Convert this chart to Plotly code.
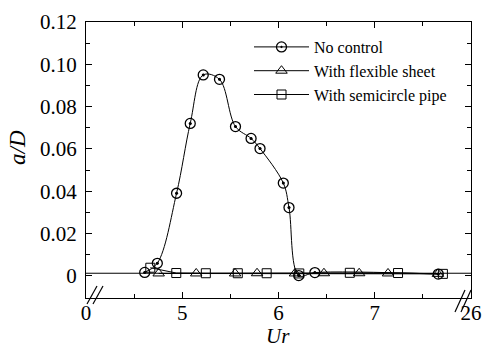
import plotly.graph_objects as go

# ---- data (Ur axis is broken: positions 4 and 8 are labelled 0 and 26) ----
ur_noctrl = [4.61, 4.741, 4.941, 5.083, 5.218, 5.387, 5.553, 5.715, 5.808, 6.050, 6.109, 6.21, 6.378, 7.66]
ad_noctrl = [0.0017, 0.0060, 0.0391, 0.0721, 0.0950, 0.0929, 0.0706, 0.0650, 0.0602, 0.0439, 0.0323, 0.0002, 0.0016, 0.0009]

ur_sheet = [4.755, 5.145, 5.549, 5.777, 6.171, 6.472, 6.838, 7.138, 7.656]
ad_sheet = [0.0012, 0.0012, 0.0012, 0.0013, 0.0012, 0.0013, 0.0013, 0.0012, 0.0010]

ur_pipe = [4.668, 4.938, 5.245, 5.577, 5.877, 6.216, 6.741, 7.242, 7.708]
ad_pipe = [0.0039, 0.0014, 0.0013, 0.0013, 0.0013, 0.0012, 0.0015, 0.0014, 0.0010]

ur_base = [4.0, 8.0]
ad_base = [0.0013, 0.0013]

x_tickvals = [4, 5, 6, 7, 8]
x_ticktext = ["0", "5", "6", "7", "26"]
y_tickvals = [0, 0.02, 0.04, 0.06, 0.08, 0.10, 0.12]
y_ticktext = ["0", "0.02", "0.04", "0.06", "0.08", "0.10", "0.12"]

FONT = "Liberation Serif"

fig = go.Figure()
fig.add_trace(go.Scatter(x=ur_base, y=ad_base, mode="lines", showlegend=False,
                         line=dict(color="black", width=1), hoverinfo="skip"))
fig.add_trace(go.Scatter(x=ur_noctrl, y=ad_noctrl, mode="lines+markers", name="No control",
                         line=dict(color="black", width=1, shape="spline", smoothing=1.0),
                         marker=dict(symbol="circle-open-dot", size=10, color="black",
                                     line=dict(width=1.3, color="black"))))
# centre dots of the "No control" markers
fig.add_trace(go.Scatter(x=ur_noctrl, y=ad_noctrl, mode="markers", showlegend=False,
                         marker=dict(symbol="circle", size=3, color="black"), hoverinfo="skip"))
fig.add_trace(go.Scatter(x=ur_sheet, y=ad_sheet, mode="lines+markers", name="With flexible sheet",
                         line=dict(color="black", width=1),
                         marker=dict(symbol="triangle-up-open", size=10, color="black",
                                     line=dict(width=1, color="black"))))
fig.add_trace(go.Scatter(x=ur_pipe, y=ad_pipe, mode="lines+markers", name="With semicircle pipe",
                         line=dict(color="black", width=1),
                         marker=dict(symbol="square-open", size=9, color="black",
                                     line=dict(width=1, color="black"))))

# plot area at window pixels x 86..471, y 22..298 (body margin removed below)
W, H = 483, 348
L, R, T, B = 86, 12, 22, 50
pw, ph = W - L - R, H - T - B

def px(xp):  # window pixel -> paper
    return (xp - L) / pw

def py(yp):
    return (H - B - yp) / ph

shapes = []
for (x0, y0, x1, y1) in [(87, 304, 97, 286), (93, 304, 103, 286),
                         (455, 312, 465, 290), (461, 312, 471, 290)]:
    shapes.append(dict(type="line", xref="paper", yref="paper",
                       x0=px(x0), y0=py(y0), x1=px(x1), y1=py(y1),
                       line=dict(color="black", width=1.2)))

fig.update_layout(
    width=W, height=H,
    margin=dict(l=L, r=R, t=T, b=B, autoexpand=False),
    paper_bgcolor="white", plot_bgcolor="white",
    font=dict(family=FONT, color="black", size=20),
    showlegend=True,
    legend=dict(x=px(249), y=py(30), xanchor="left", yanchor="top",
                bgcolor="rgba(0,0,0,0)", font=dict(family=FONT, size=16, color="black"),
                itemwidth=55, borderwidth=0),
    shapes=shapes,
    annotations=[
        dict(text="<i>Ur</i>", xref="paper", yref="paper", x=px(278), y=py(336),
             xanchor="center", yanchor="middle",
             showarrow=False, font=dict(family=FONT, size=21)),
        dict(text="<i>a/D</i>", xref="paper", yref="paper", x=px(17), y=py(148),
             xanchor="center", yanchor="middle",
             showarrow=False, textangle=-90, font=dict(family=FONT, size=23)),
    ],
)
fig.update_xaxes(range=[4, 8], tickvals=x_tickvals, ticktext=x_ticktext, automargin=False,
                 ticks="inside", ticklen=6, tickwidth=1, tickcolor="black",
                 showline=True, linecolor="black", linewidth=1, mirror="allticks",
                 showgrid=False, zeroline=False,
                 minor=dict(tick0=4, dtick=0.5, ticks="inside", ticklen=4, tickcolor="black", showgrid=False),
                 tickfont=dict(family=FONT, size=21), ticklabelstandoff=-4)
fig.update_yaxes(range=[-0.0104, 0.12], tickvals=y_tickvals, ticktext=y_ticktext, automargin=False,
                 ticks="inside", ticklen=6, tickwidth=1, tickcolor="black",
                 showline=True, linecolor="black", linewidth=1, mirror="allticks",
                 showgrid=False, zeroline=False,
                 minor=dict(tick0=0, dtick=0.01, ticks="inside", ticklen=4, tickcolor="black", showgrid=False),
                 tickfont=dict(family=FONT, size=21), ticklabelstandoff=4)

fig.write_html("out.html", config={"displayModeBar": False},
               post_script="document.body.style.margin='0px';")
